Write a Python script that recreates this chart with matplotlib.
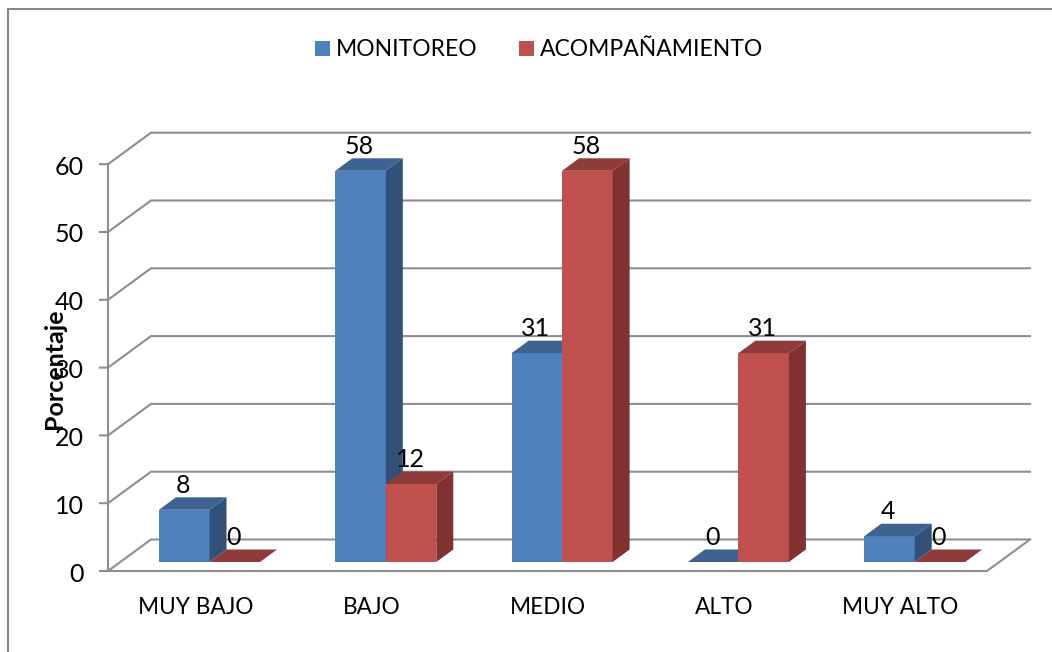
import matplotlib
matplotlib.use('Agg')
import matplotlib.pyplot as plt
from matplotlib.patches import Polygon, Rectangle

categories = ['MUY BAJO', 'BAJO', 'MEDIO', 'ALTO', 'MUY ALTO']
monitoreo = [7.7, 57.7, 30.8, 0, 3.8]
acompanamiento = [0, 11.5, 57.7, 30.8, 0]
y_ticks = [0, 10, 20, 30, 40, 50, 60]

plt.rcParams['font.family'] = ['Lato', 'DejaVu Sans']

W, H = 1052, 652
# scale of the chart, in pixels
PX_CAT = 176.3
PX_VAL = 6.78
X0 = 209.5      # pixel of first category centre
Y0 = 571        # pixel of value 0 on the front edge

fig = plt.figure(figsize=(W / 100, H / 100), dpi=100)
ax = fig.add_axes([0, 0, 1, 1])
ax.set_xlim(-X0 / PX_CAT, (W - X0) / PX_CAT)
ax.set_ylim((Y0 - H) / PX_VAL, Y0 / PX_VAL)
ax.axis('off')


def dx(px):
    return px / PX_CAT


def dy(px):
    return px / PX_VAL


GRID = '#8e8e8e'
left = dx(108 - X0)
right = dx(987 - X0)
wall_x = dx(43)
wall_y = dy(31.5)

# chart frame, only left and top are inside the picture
fig.add_artist(Rectangle((8 / W, -0.01), 1.1, 1 - 9 / H + 0.01, transform=fig.transFigure,
                         fill=False, ec='#868686', lw=1.4))

# grid
for v in y_ticks:
    ax.plot([left - dx(8), left, left + wall_x, right + wall_x],
            [v, v, v + wall_y, v + wall_y], color=GRID, lw=1.5, zorder=1, solid_joinstyle='miter')
    ax.text(left - dx(24.5), v - dy(3), str(v), ha='right', va='center', fontsize=18, color='black')
ax.plot([left, left], [0, y_ticks[-1]], color=GRID, lw=1.5, zorder=1)
ax.plot([left, right, right + wall_x], [0, 0, wall_y], color=GRID, lw=1.5, zorder=1)

# bars
base = dy(9)
depth_x = dx(17)
depth_y = dy(12.5)
width = 50.5 / PX_CAT


def bar3d(x, v, front, top, side):
    x0, x1 = x, x + width
    y0, y1 = base, base + v
    ax.bar(x0, v, width=width, bottom=base, align='edge', color=front, zorder=3)
    ax.add_patch(Polygon([(x0, y1), (x1, y1), (x1 + depth_x, y1 + depth_y), (x0 + depth_x, y1 + depth_y)],
                         fc=top, ec='none', zorder=3))
    ax.add_patch(Polygon([(x1, y0), (x1 + depth_x, y0 + depth_y), (x1 + depth_x, y1 + depth_y), (x1, y1)],
                         fc=side, ec='none', zorder=3))
    ax.text(x0 + width / 2 - dx(1), y1 + dy(13), '%.0f' % v, ha='center', va='bottom', fontsize=18, color='black', zorder=5)


for i in range(len(categories)):
    bar3d(i - width, monitoreo[i], '#4f81bd', '#3e6390', '#325178')
    bar3d(i, acompanamiento[i], '#c0504d', '#8e3b39', '#7f3230')
    ax.text(i - 0.08, dy(571 - 608), categories[i], ha='center', va='center', fontsize=16.3, color='black')

# axis title
ax.text(dx(55 - X0), dy(571 - 369), 'Porcentaje', rotation=90, ha='center', va='center',
        fontsize=18, fontweight='bold', color='black', zorder=6)

# legend
ax.add_patch(Rectangle((dx(315 - X0), dy(571 - 56)), dx(15), dy(15), fc='#4f81bd', ec='none'))
ax.text(dx(336 - X0), dy(571 - 50), 'MONITOREO', ha='left', va='center', fontsize=16.5, color='black')
ax.add_patch(Rectangle((dx(519 - X0), dy(571 - 56)), dx(15), dy(15), fc='#c0504d', ec='none'))
ax.text(dx(540 - X0), dy(571 - 50), 'ACOMPAÑAMIENTO', ha='left', va='center', fontsize=16.5, color='black')

fig.savefig('out.png', dpi=100, facecolor='white')
